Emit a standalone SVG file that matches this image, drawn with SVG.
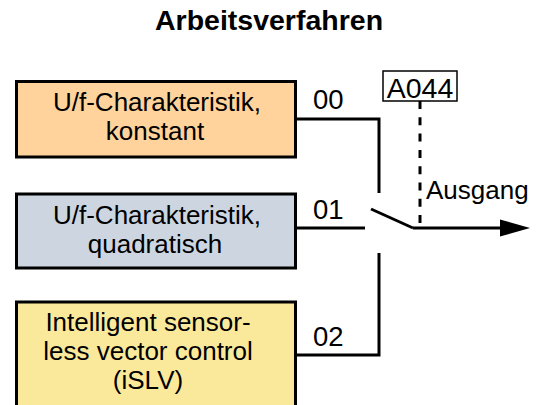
<svg xmlns="http://www.w3.org/2000/svg" width="538" height="405" viewBox="0 0 538 405">
  <style>
    .box { stroke: #000; stroke-width: 3; }
    .txt { font-family: "Liberation Sans", Arial, sans-serif; font-size: 26px; fill: #000; }
    .num { font-size: 27.5px; }
    .mid { text-anchor: middle; }
    .title { font-family: "Liberation Sans", Arial, sans-serif; font-size: 28.5px; font-weight: bold; text-anchor: middle; fill: #000; }
    .wire { fill: none; stroke: #000; stroke-width: 3; }
    .dash { fill: none; stroke: #000; stroke-width: 3; stroke-dasharray: 8 8.3; }
  </style>
  <rect width="538" height="405" fill="#fff"/>
  <text class="title" x="269" y="30">Arbeitsverfahren</text>

  <g id="node-uf-konstant">
    <rect class="box" x="16.5" y="81.5" width="279" height="75.5" fill="#FFD39B"/>
    <text class="txt mid" x="157" y="111">U/f-Charakteristik,</text>
    <text class="txt mid" x="155" y="140">konstant</text>
  </g>

  <g id="node-uf-quadratisch">
    <rect class="box" x="16.5" y="194" width="279" height="74" fill="#CDD6E0"/>
    <text class="txt mid" x="157" y="224">U/f-Charakteristik,</text>
    <text class="txt mid" x="155" y="253">quadratisch</text>
  </g>

  <g id="node-islv">
    <rect class="box" x="16.5" y="302" width="279" height="120" fill="#FBE99B"/>
    <text class="txt mid" x="148" y="331">Intelligent sensor-</text>
    <text class="txt mid" x="148" y="360">less vector control</text>
    <text class="txt mid" x="148" y="389">(iSLV)</text>
  </g>

  <g id="node-a044">
    <rect x="383" y="71" width="74" height="30" fill="#fff" stroke="#000" stroke-width="1.5"/>
    <text class="txt mid" x="420" y="97.5" style="font-size:28.5px">A044</text>
  </g>

  <g id="connectors">
    <polyline class="wire" points="296,119 379,119 379,193"/>
    <polyline class="wire" points="296,228 365,228"/>
    <polyline class="wire" points="296,355 379,355 379,253"/>
    <line class="wire" x1="371" y1="209" x2="413" y2="228"/>
    <line class="wire" x1="413" y1="228" x2="502" y2="228"/>
    <polygon points="500,219.5 530,228 500,236.5" fill="#000"/>
    <line class="dash" x1="420" y1="101" x2="420" y2="226"/>
    <text class="txt num" x="313" y="108.5">00</text>
    <text class="txt num" x="313" y="218.5">01</text>
    <text class="txt num" x="313" y="345.5">02</text>
    <text class="txt" x="426" y="199">Ausgang</text>
  </g>
</svg>
